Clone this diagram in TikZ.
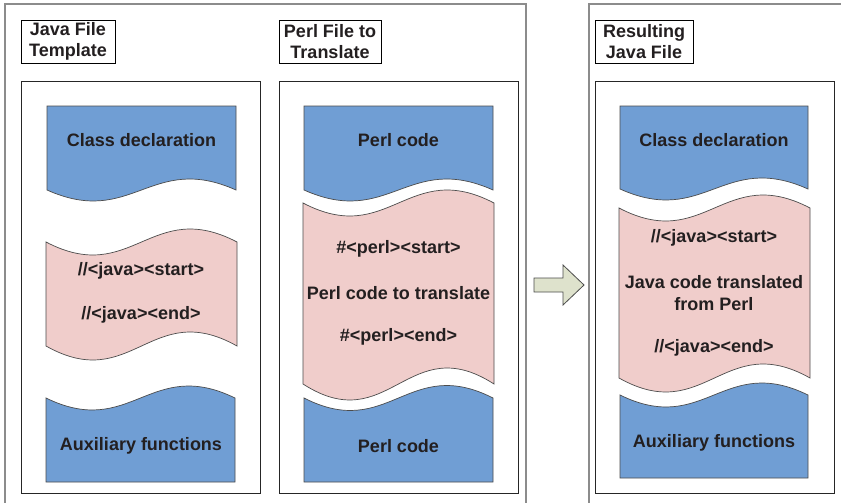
\documentclass[tikz,border=0pt]{standalone}
\usepackage{fontspec}
\setmainfont{Liberation Sans}
\definecolor{codeblue}{HTML}{709ED4}
\definecolor{codepink}{HTML}{F0CDCB}
\definecolor{arrowfill}{HTML}{DEE2CC}
\definecolor{txt}{HTML}{231F20}
\definecolor{panelgray}{HTML}{8C8C8C}
% wave from (#1,#3) to (#2,#3), amplitude #4 (positive: dips down first)
\newcommand{\wv}[4]{.. controls ({#1+0.45*(#2-#1)},{#3+3.46*(#4)}) and ({#1+0.55*(#2-#1)},{#3-3.46*(#4)}) .. (#2,#3)}
\tikzset{
  panel/.style={draw=panelgray, line width=1.4pt},
  innerbox/.style={draw=black!85, line width=0.9pt},
  titlebox/.style={draw=black, line width=0.9pt},
  bluepart/.style={fill=codeblue, draw=black!70, line width=0.7pt},
  pinkpart/.style={fill=codepink, draw=black!70, line width=0.7pt},
  lbl/.style={text=txt, font=\fontsize{18}{21.5}\selectfont\bfseries, align=center, inner sep=0pt},
  arrowshape/.style={fill=arrowfill, draw=black!70, line width=0.8pt},
}
\begin{document}
\begin{tikzpicture}[x=1pt,y=-1pt]
\useasboundingbox (0,0) rectangle (841,503);
\clip (0,0) rectangle (841,503);
\fill[white] (0,0) rectangle (841,503);
% outer panels
\draw[panel] (5,4) rectangle (526,520);
\draw[panel] (589,4) rectangle (860,520);
% title boxes
\draw[titlebox] (21,20) rectangle (115,63);
\node[lbl] (tJ) at (68,41.5) {Java File\\Template};
\draw[titlebox] (279,20) rectangle (381,63);
\node[lbl] (tP) at (330,41.5) {Perl File to\\Translate};
\draw[titlebox] (595,20) rectangle (693,63);
\node[lbl] (tR) at (644,41.5) {Resulting\\Java File};
% inner boxes
\draw[innerbox] (21,81) rectangle (260,493);
\draw[innerbox] (279,81) rectangle (518,493);
\draw[innerbox] (595,81) rectangle (834,493);
% ---- left column
\draw[bluepart] (47,106) -- (236,106) -- (236,190) \wv{236}{47}{190}{-11} -- cycle;
\draw[pinkpart] (46,242) \wv{46}{237}{242}{13} -- (237,346) \wv{237}{46}{346}{-14} -- cycle;
\draw[bluepart] (46,398) \wv{46}{235}{398}{12} -- (235,482) -- (46,482) -- cycle;
\node[lbl] (cdL) at (141.5,140) {Class declaration};
\node[lbl] (jsL) at (141,271) {//<java><start>};
\node[lbl] (jeL) at (141,315) {//<java><end>};
\node[lbl] (axL) at (141,446) {Auxiliary functions};
% ---- middle column
\draw[bluepart] (304,106) -- (493,106) -- (493,190) \wv{493}{304}{190}{-11} -- cycle;
\draw[pinkpart] (303,203) \wv{303}{494}{203}{13} -- (494,384) \wv{494}{303}{384}{-16} -- cycle;
\draw[bluepart] (304,398) \wv{304}{493}{398}{12.5} -- (493,482) -- (304,482) -- cycle;
\node[lbl] (pcT) at (398.5,140) {Perl code};
\node[lbl] (psM) at (398.5,249) {\#<perl><start>};
\node[lbl] (ptM) at (398.5,293) {Perl code to translate};
\node[lbl] (peM) at (398.5,337) {\#<perl><end>};
\node[lbl] (pcB) at (398.5,446) {Perl code};
% ---- arrow
\draw[arrowshape] (534,278) -- (563,278) -- (563,265) -- (584,285) -- (563,305) -- (563,292) -- (534,292) -- cycle;
% ---- right column
\draw[bluepart] (620,106) -- (808,106) -- (808,189) \wv{808}{620}{189}{-11} -- cycle;
\draw[pinkpart] (619,208) \wv{619}{810}{208}{13} -- (810,378) \wv{810}{619}{378}{-14} -- cycle;
\draw[bluepart] (620,395) \wv{620}{808}{395}{12} -- (808,478) -- (620,478) -- cycle;
\node[lbl] (cdR) at (714,140) {Class declaration};
\node[lbl] (jsR) at (714,238) {//<java><start>};
\node[lbl] (jtR) at (714,293) {Java code translated\\from Perl};
\node[lbl] (jeR) at (714,348) {//<java><end>};
\node[lbl] (axR) at (714,443) {Auxiliary functions};
\end{tikzpicture}
\end{document}
